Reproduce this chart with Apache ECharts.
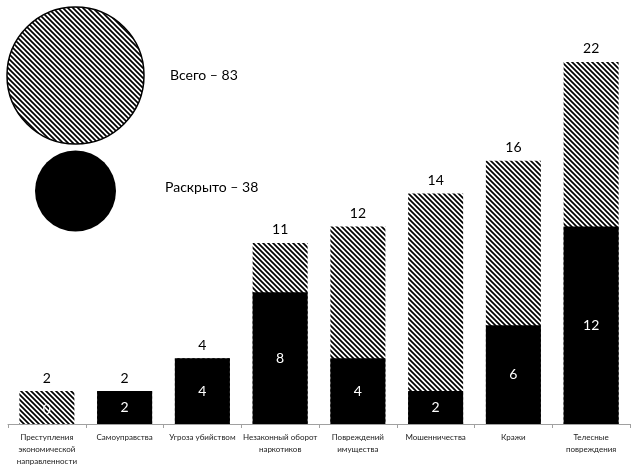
<!DOCTYPE html>
<html>
<head>
<meta charset="utf-8">
<script src="https://cdn.jsdelivr.net/npm/echarts@6/dist/echarts.min.js"></script>
<style>
  html, body { margin: 0; padding: 0; background: #fff; }
  #chart { width: 640px; height: 467px; }
</style>
</head>
<body>
<div id="chart"></div>
<script>
// Crime categories and counts
const categories = [
  'Преступления\nэкономической\nнаправленности',
  'Самоуправства',
  'Угроза убийством',
  'Незаконный оборот\nнаркотиков',
  'Повреждений\nимущества',
  'Мошенничества',
  'Кражи',
  'Телесные\nповреждения'
];
const totalCases = [2, 2, 4, 11, 12, 14, 16, 22];
const solvedCases = [0, 2, 4, 8, 4, 2, 6, 12];

const totalSum = totalCases.reduce((a, b) => a + b, 0);
const solvedSum = solvedCases.reduce((a, b) => a + b, 0);

// Diagonal hatch tile ("\" direction)
function makeHatch() {
  const s = 5;
  const c = document.createElement('canvas');
  c.width = s; c.height = s;
  const ctx = c.getContext('2d');
  ctx.fillStyle = '#fff';
  ctx.fillRect(0, 0, s, s);
  ctx.strokeStyle = '#000';
  ctx.lineWidth = 1.7;
  ctx.beginPath();
  ctx.moveTo(-1, -1); ctx.lineTo(s + 1, s + 1);
  ctx.moveTo(-1, s - 1); ctx.lineTo(1, s + 1);
  ctx.moveTo(s - 1, -1); ctx.lineTo(s + 1, 1);
  ctx.stroke();
  return c;
}
const hatch = { image: makeHatch(), repeat: 'repeat' };

const FONT = 'Lato, "Open Sans", sans-serif';

const solvedData = solvedCases.map(v => v === 0
  ? { value: v, label: { position: 'insideBottom', distance: 8 } }
  : v);

const chart = echarts.init(document.getElementById('chart'));
chart.setOption({
  animation: false,
  backgroundColor: '#fff',
  grid: { left: 8, right: 10, top: 29, bottom: 43 },
  xAxis: {
    type: 'category',
    data: categories,
    axisLine: { lineStyle: { color: '#a0a0a0', width: 1 } },
    axisTick: { show: true, length: 4, lineStyle: { color: '#a0a0a0' } },
    axisLabel: {
      interval: 0,
      margin: 7,
      fontFamily: FONT,
      fontSize: 8,
      lineHeight: 12,
      color: '#1a1a1a'
    }
  },
  yAxis: {
    type: 'value',
    min: 0,
    max: 24,
    show: false,
    splitLine: { show: false }
  },
  series: [
    {
      name: 'Всего',
      type: 'bar',
      data: totalCases,
      barWidth: 55,
      barGap: '-100%',
      itemStyle: { color: hatch },
      label: {
        show: true,
        position: 'top',
        distance: 6,
        fontFamily: FONT,
        fontSize: 14,
        color: '#000'
      }
    },
    {
      name: 'Раскрыто',
      type: 'bar',
      data: solvedData,
      barWidth: 55,
      barGap: '-100%',
      itemStyle: { color: '#000' },
      label: {
        show: true,
        position: 'inside',
        fontFamily: FONT,
        fontSize: 14,
        color: '#fff'
      }
    }
  ],
  graphic: [
    {
      type: 'circle',
      shape: { cx: 75.5, cy: 75.5, r: 68.5 },
      style: { fill: hatch, stroke: '#000', lineWidth: 1.5 }
    },
    {
      type: 'text',
      left: 170,
      top: 68,
      style: { text: 'Всего – ' + totalSum, fontFamily: FONT, fontSize: 14, fill: '#000' }
    },
    {
      type: 'circle',
      shape: { cx: 75.5, cy: 191, r: 40.5 },
      style: { fill: '#000' }
    },
    {
      type: 'text',
      left: 165,
      top: 180,
      style: { text: 'Раскрыто – ' + solvedSum, fontFamily: FONT, fontSize: 14, fill: '#000' }
    }
  ]
});
</script>
</body>
</html>
